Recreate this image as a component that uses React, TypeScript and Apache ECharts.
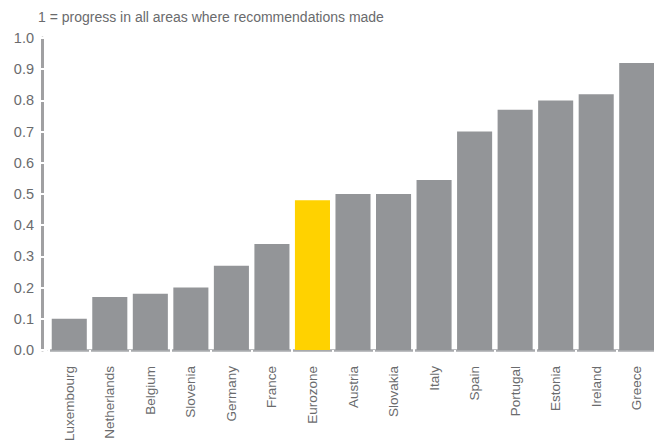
import React, { useEffect, useRef } from "react";
import * as echarts from "echarts";

const categories = [
  "Luxembourg", "Netherlands", "Belgium", "Slovenia", "Germany", "France", "Eurozone",
  "Austria", "Slovakia", "Italy", "Spain", "Portugal", "Estonia", "Ireland", "Greece",
];
const values = [0.1, 0.17, 0.18, 0.2, 0.27, 0.34, 0.48, 0.5, 0.5, 0.545, 0.7, 0.77, 0.8, 0.82, 0.92];
const highlighted = "Eurozone";
const yMin = 0;
const yMax = 1;
const yInterval = 0.1;
const subtitle = "1 = progress in all areas where recommendations made";

const GREY = "#939598";
const YELLOW = "#FFD200";
const TEXT = "#6a6b6d";
const FONT = "Liberation Sans";

export default function App() {
  const ref = useRef<HTMLDivElement>(null);
  useEffect(() => {
    if (!ref.current) return;
    const chart = echarts.init(ref.current, undefined, { renderer: "svg" });
    const common = {
      type: "category" as const,
      data: categories,
      position: "bottom" as const,
      offset: 6,
    };
    chart.setOption({
      animation: false,
      backgroundColor: "#ffffff",
      title: {
        text: subtitle,
        left: 33,
        top: 5,
        textStyle: { fontFamily: FONT, fontSize: 14, fontWeight: "normal", color: TEXT },
      },
      grid: {
        left: 49,
        top: 38,
        width: 608,
        height: 312,
        containLabel: false,
        outerBoundsMode: "none",
      },
      xAxis: [
        {
          ...common,
          axisLine: { show: true, lineStyle: { color: "#a7a9ac", width: 2.5 } },
          axisTick: { show: true, inside: false, length: 3, lineStyle: { color: "#ffffff", width: 2 } },
          axisLabel: { rotate: 90, margin: 10, fontFamily: FONT, fontSize: 13.5, color: TEXT, interval: 0 },
        },
        {
          ...common,
          axisLine: { show: false },
          axisTick: { show: true, inside: true, length: 3, lineStyle: { color: "#ffffff", width: 2 } },
          axisLabel: { show: false },
        },
      ],
      yAxis: [
        {
          type: "value",
          min: yMin,
          max: yMax,
          interval: yInterval,
          position: "left",
          offset: 7,
          splitLine: { show: false },
          axisLine: { show: true, lineStyle: { color: "#a0a0a2", width: 3 } },
          axisTick: { show: true, inside: false, length: 3, lineStyle: { color: "#ffffff", width: 2 } },
          axisLabel: {
            margin: 8,
            fontFamily: FONT,
            fontSize: 14.5,
            color: TEXT,
            formatter: (v: number) => v.toFixed(1),
          },
        },
        {
          type: "value",
          min: yMin,
          max: yMax,
          interval: yInterval,
          position: "left",
          offset: 7,
          splitLine: { show: false },
          axisLine: { show: false },
          axisTick: { show: true, inside: true, length: 3, lineStyle: { color: "#ffffff", width: 2 } },
          axisLabel: { show: false },
        },
      ],
      series: [
        {
          type: "bar",
          xAxisIndex: 0,
          yAxisIndex: 0,
          barCategoryGap: "13.5%",
          data: categories.map((c, i) => ({
            value: values[i],
            itemStyle: { color: c === highlighted ? YELLOW : GREY },
          })),
        },
      ],
    });
    return () => chart.dispose();
  }, []);
  return (
    <div
      ref={ref}
      style={{ position: "absolute", left: 0, top: 0, width: 654, height: 443 }}
    />
  );
}
